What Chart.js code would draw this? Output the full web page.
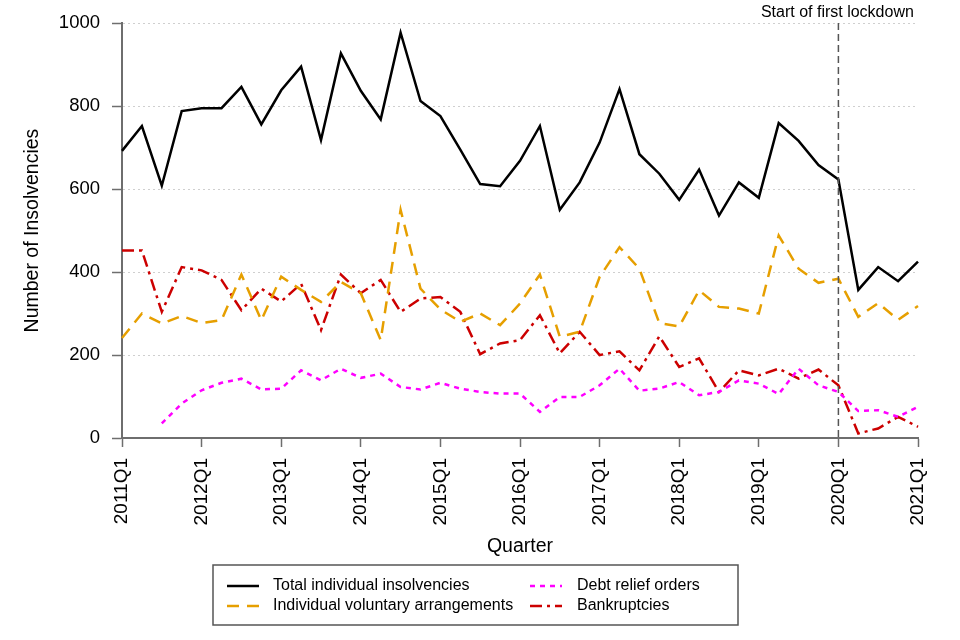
<!DOCTYPE html>
<html>
<head>
<meta charset="utf-8">
<script src="https://cdn.jsdelivr.net/npm/chart.js@4"></script>
<style>
    body { margin: 0; background: #fff; }
    #wrap { width: 960px; height: 640px; }
</style>
</head>
<body>
<div id="wrap"><canvas id="insolvencyChart" width="960" height="640"></canvas></div>
<script>
// Quarterly individual insolvencies, 2011Q1 - 2021Q1

const quarters = [
    '2011Q1','2011Q2','2011Q3','2011Q4','2012Q1','2012Q2','2012Q3','2012Q4',
    '2013Q1','2013Q2','2013Q3','2013Q4','2014Q1','2014Q2','2014Q3','2014Q4',
    '2015Q1','2015Q2','2015Q3','2015Q4','2016Q1','2016Q2','2016Q3','2016Q4',
    '2017Q1','2017Q2','2017Q3','2017Q4','2018Q1','2018Q2','2018Q3','2018Q4',
    '2019Q1','2019Q2','2019Q3','2019Q4','2020Q1','2020Q2','2020Q3','2020Q4',
    '2021Q1'
];

const totalInsolvencies = [692, 752, 608, 788, 795, 795, 846, 756, 838, 895, 718, 927, 837, 768, 977, 812,
    776, 695, 612, 607, 668, 752, 550, 616, 712, 841, 684, 637, 574, 647, 536, 616,
    579, 759, 716, 658, 623, 357, 412, 378, 425];

const ivas = [241, 300, 276, 294, 277, 284, 394, 284, 389, 357, 328, 376, 349, 236, 550, 360,
    310, 280, 300, 272, 324, 394, 244, 256, 388, 460, 408, 277, 269, 356, 316, 312,
    300, 488, 408, 374, 384, 292, 325, 285, 318];

const debtReliefOrders = [null, null, 35, 83, 115, 133, 143, 117, 119, 163, 139, 167, 145, 155, 123, 117,
    133, 119, 111, 107, 107, 63, 99, 99, 127, 167, 114, 119, 135, 103, 111, 139,
    131, 106, 167, 127, 111, 65, 67, 51, 75];

const bankruptcies = [452, 452, 304, 412, 404, 381, 308, 360, 329, 372, 260, 394, 349, 381, 304, 336,
    340, 304, 202, 228, 236, 296, 204, 256, 200, 209, 163, 245, 171, 192, 111, 163,
    151, 167, 143, 165, 127, 11, 23, 51, 27];

const yTicks = [0, 200, 400, 600, 800, 1000];
const lockdownQuarter = '2020Q1';
const lockdownLabel = 'Start of first lockdown';

const FONT = "'Liberation Sans', Arial, sans-serif";
const AXIS_GREY = '#6e6e6e';

// Dashed lockdown marker and its label
const lockdownPlugin = {
    id: 'lockdown',
    afterDatasetsDraw(chart) {
        const { ctx, chartArea, scales } = chart;
        const x = scales.x.getPixelForValue(quarters.indexOf(lockdownQuarter));
        ctx.save();
        ctx.strokeStyle = '#555';
        ctx.lineWidth = 1.5;
        ctx.setLineDash([7, 4]);
        ctx.beginPath();
        ctx.moveTo(x, chartArea.top);
        ctx.lineTo(x, chartArea.bottom);
        ctx.stroke();
        ctx.setLineDash([]);
        ctx.fillStyle = '#000';
        ctx.font = '16px ' + FONT;
        ctx.textAlign = 'center';
        ctx.textBaseline = 'middle';
        ctx.fillText(lockdownLabel, x - 1, 13);
        ctx.restore();
    }
};

// Boxed two-column legend under the axis title
const boxLegendPlugin = {
    id: 'boxLegend',
    afterDraw(chart) {
        const ctx = chart.ctx;
        const sets = chart.data.datasets;
        const cols = [{ x1: 227, x2: 259, tx: 273 }, { x1: 530, x2: 562, tx: 577 }];
        const rows = [586, 606];
        ctx.save();
        ctx.strokeStyle = '#555';
        ctx.lineWidth = 1.5;
        ctx.strokeRect(213, 565, 525, 60);
        ctx.font = '16px ' + FONT;
        ctx.textBaseline = 'middle';
        ctx.textAlign = 'left';
        sets.forEach((ds, i) => {
            const col = cols[Math.floor(i / 2)];
            const y = rows[i % 2];
            ctx.strokeStyle = ds.borderColor;
            ctx.lineWidth = ds.borderWidth;
            ctx.setLineDash(ds.borderDash || []);
            ctx.beginPath();
            ctx.moveTo(col.x1, y);
            ctx.lineTo(col.x2, y);
            ctx.stroke();
            ctx.setLineDash([]);
            ctx.fillStyle = '#000';
            ctx.fillText(ds.label, col.tx, y);
        });
        ctx.restore();
    }
};

document.addEventListener('DOMContentLoaded', function() {
    const ctx = document.getElementById('insolvencyChart');

    new Chart(ctx, {
        type: 'line',
        data: {
            labels: quarters,
            datasets: [{
                label: 'Total individual insolvencies',
                data: totalInsolvencies,
                borderColor: '#000000',
                borderWidth: 2.5,
                borderDash: []
            }, {
                label: 'Individual voluntary arrangements',
                data: ivas,
                borderColor: '#E69F00',
                borderWidth: 2.5,
                borderDash: [12, 8]
            }, {
                label: 'Debt relief orders',
                data: debtReliefOrders,
                borderColor: '#FF00FF',
                borderWidth: 2.5,
                borderDash: [5, 5]
            }, {
                label: 'Bankruptcies',
                data: bankruptcies,
                borderColor: '#CC0000',
                borderWidth: 2.5,
                borderDash: [12, 5, 3, 5]
            }]
        },
        options: {
            responsive: false,
            animation: false,
            devicePixelRatio: 1,
            layout: { padding: { left: 17, top: 22, right: 42, bottom: 78 } },
            elements: {
                point: { radius: 0, hoverRadius: 0 },
                line: { tension: 0, fill: false, borderCapStyle: 'butt' }
            },
            plugins: {
                legend: { display: false },
                tooltip: { enabled: false }
            },
            scales: {
                x: {
                    type: 'category',
                    offset: false,
                    afterFit: function(scale) { scale.height = 124; },
                    grid: {
                        drawOnChartArea: false,
                        tickLength: 9,
                        tickWidth: 1.5,
                        tickColor: function(c) {
                            return c.index % 4 === 0 ? AXIS_GREY : 'rgba(0,0,0,0)';
                        }
                    },
                    border: { color: AXIS_GREY, width: 2 },
                    ticks: {
                        autoSkip: false,
                        minRotation: 90,
                        maxRotation: 90,
                        padding: 11,
                        color: '#000',
                        font: { family: FONT, size: 19 },
                        callback: function(value, index) {
                            return index % 4 === 0 ? quarters[index] : '';
                        }
                    },
                    title: {
                        display: true,
                        text: 'Quarter',
                        color: '#000',
                        font: { family: FONT, size: 19.5 }
                    }
                },
                y: {
                    min: yTicks[0],
                    max: yTicks[yTicks.length - 1],
                    afterFit: function(scale) { scale.width = 105; },
                    afterBuildTicks: function(scale) {
                        scale.ticks = yTicks.map(v => ({ value: v }));
                    },
                    grid: {
                        color: '#cfcfcf',
                        lineWidth: 1,
                        tickLength: 10,
                        tickWidth: 1.5,
                        tickColor: AXIS_GREY
                    },
                    border: { color: AXIS_GREY, width: 2, dash: [2, 3] },
                    ticks: {
                        padding: 12,
                        color: '#000',
                        font: { family: FONT, size: 18.5 },
                        callback: function(value) { return String(value); }
                    },
                    title: {
                        display: true,
                        text: 'Number of Insolvencies',
                        color: '#000',
                        font: { family: FONT, size: 19.5 }
                    }
                }
            }
        },
        plugins: [lockdownPlugin, boxLegendPlugin]
    });
});
</script>
</body>
</html>
